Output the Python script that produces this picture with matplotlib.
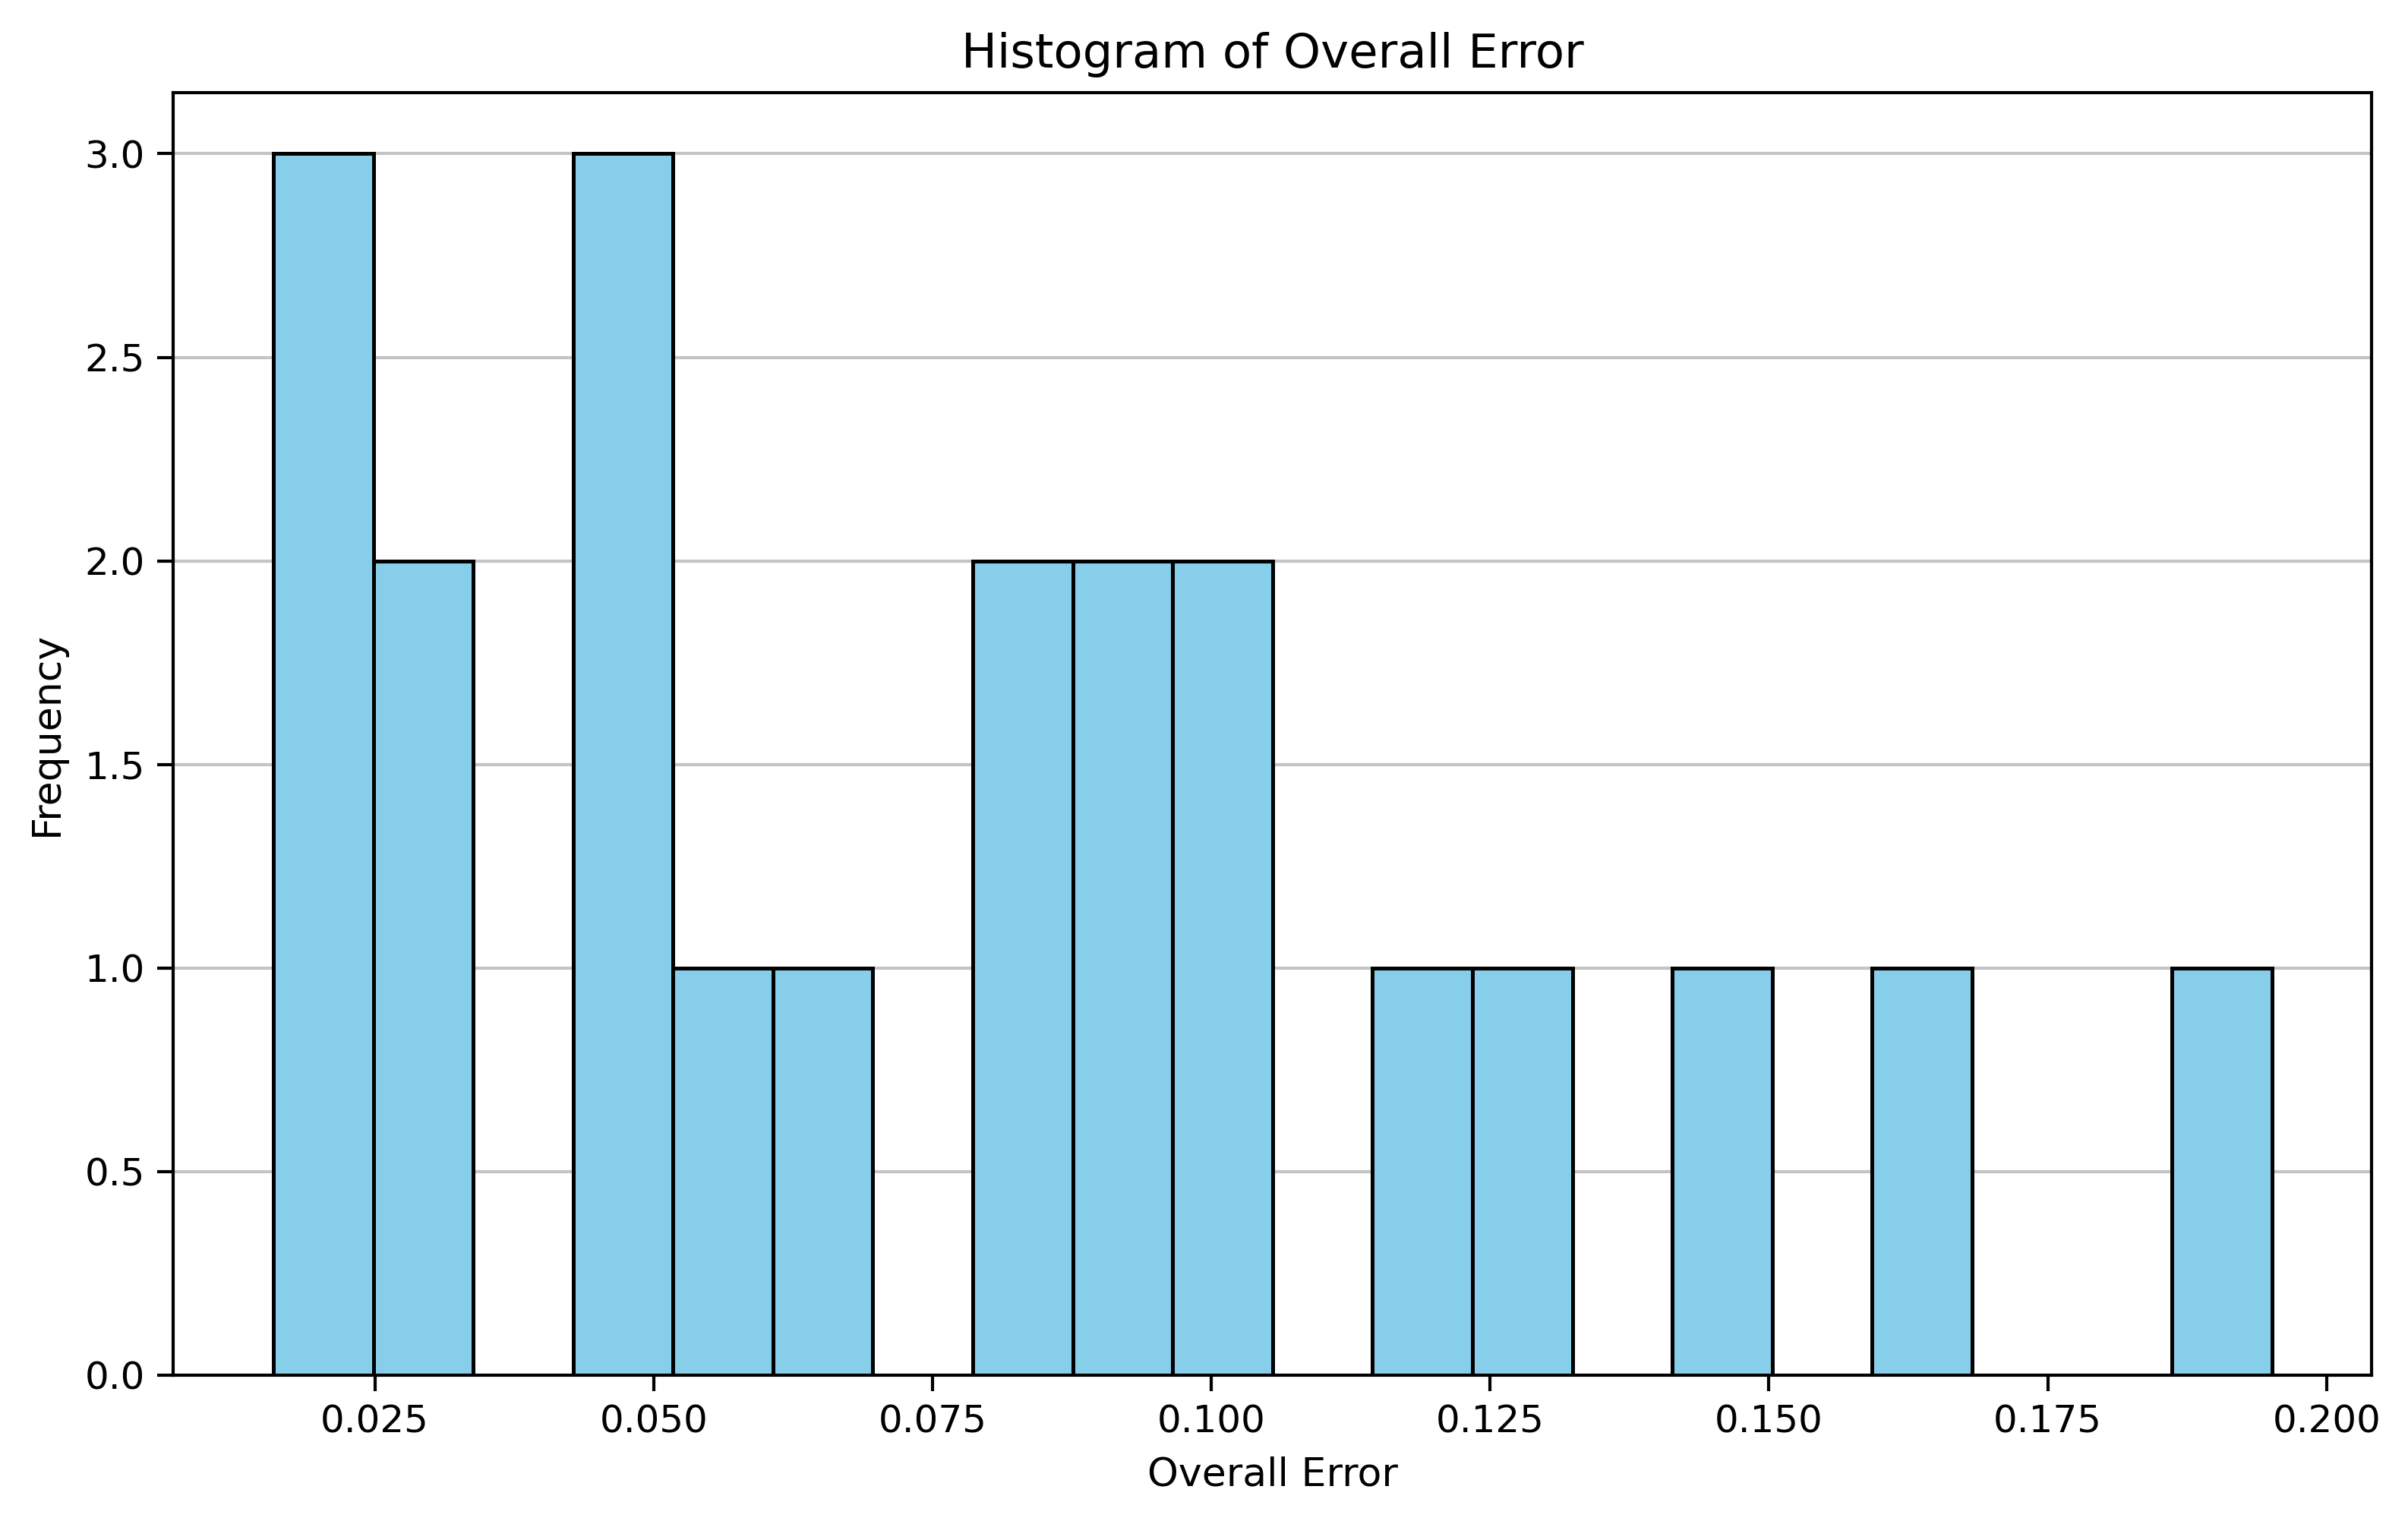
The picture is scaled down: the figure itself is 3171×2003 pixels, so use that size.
import matplotlib
matplotlib.use("Agg")
import matplotlib.pyplot as plt

# Raw overall error values (20 bins)
overall_error = [
    0.0159, 0.019, 0.023,
    0.027, 0.031,
    0.045, 0.048, 0.050,
    0.056,
    0.065,
    0.081, 0.085,
    0.090, 0.094,
    0.099, 0.103,
    0.119,
    0.128,
    0.146,
    0.164,
    0.1951,
]
n_bins = 20

fig = plt.figure(figsize=(10.57, 6.677), dpi=300)
ax = fig.add_axes([0.072, 0.096, 0.913, 0.843])
ax.hist(overall_error, bins=n_bins, color="skyblue", edgecolor="black",
        linewidth=1.2, zorder=2)
ax.set_axisbelow(True)
ax.grid(axis="y", color="#b0b0b0", alpha=0.75, linewidth=1.0)
ax.set_title("Histogram of Overall Error", fontsize=15, pad=8)
ax.set_xlabel("Overall Error", fontsize=12.5, labelpad=5)
ax.set_ylabel("Frequency", fontsize=12.5, labelpad=6)
ax.tick_params(labelsize=12, length=5, width=1.0, pad=4)
for s in ax.spines.values():
    s.set_linewidth(1.0)
fig.savefig("out.png", dpi=300)
